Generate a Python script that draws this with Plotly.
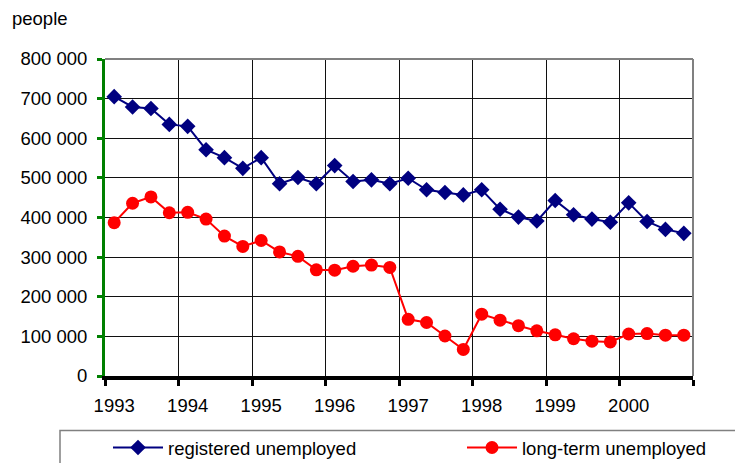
import plotly.graph_objects as go

years = [1993, 1994, 1995, 1996, 1997, 1998, 1999, 2000]
year_labels = ["1993", "1994", "1995", "1996", "1997", "1998", "1999", "2000"]
registered = [705000, 679000, 675000, 635000, 630000, 571000, 551000, 524000,
              551000, 485000, 501000, 485000, 531000, 491000, 495000, 485000,
              499000, 470000, 463000, 457000, 470000, 421000, 401000, 391000,
              443000, 407000, 396000, 388000, 437000, 390000, 370000, 360000]
long_term = [387000, 436000, 452000, 412000, 413000, 396000, 353000, 327000,
             342000, 313000, 302000, 268000, 267000, 277000, 280000, 274000,
             143000, 135000, 101000, 67000, 156000, 141000, 127000, 114000,
             104000, 94000, 88000, 86000, 106000, 107000, 103000, 103000]
y_ticks = [0, 100000, 200000, 300000, 400000, 500000, 600000, 700000, 800000]
y_labels = ["0", "100 000", "200 000", "300 000", "400 000", "500 000", "600 000", "700 000", "800 000"]

# quarter positions (centre of each quarter)
xq = [y + (q + 0.5) / 4 for y in years for q in range(4)]

OFF = 8  # default page body margin
W, H = 743 - OFF, 463 - OFF
L, R, T, B = 105 - OFF, 50, 59 - OFF, 87
PW, PH = W - L - R, H - T - B


def px(sx):
    return (sx - OFF - L) / PW


def py(sy):
    return 1 - (sy - OFF - T) / PH


FAM = "Liberation Sans, Arial, sans-serif"
FS = 18.5
font = dict(family=FAM, size=FS, color="black")

fig = go.Figure()
fig.add_trace(go.Scatter(x=xq, y=registered, mode="lines+markers", name="registered unemployed",
                         line=dict(color="#000080", width=2),
                         marker=dict(symbol="diamond", size=12, color="#000080"),
                         legend="legend"))
fig.add_trace(go.Scatter(x=xq, y=long_term, mode="lines+markers", name="long-term unemployed",
                         line=dict(color="#FF0000", width=2),
                         marker=dict(symbol="circle", size=13, color="#FF0000"),
                         legend="legend2"))
# invisible trace to carry the label axis
fig.add_trace(go.Scatter(x=[years[0] + 0.125], y=[0], xaxis="x2", mode="markers",
                         marker=dict(opacity=0), showlegend=False, hoverinfo="skip"))

leg_common = dict(orientation="h", xref="container", yref="container",
                  xanchor="left", yanchor="middle", bgcolor="rgba(0,0,0,0)",
                  borderwidth=0, font=dict(family=FAM, size=FS, color="black"),
                  itemwidth=50)

fig.update_layout(
    width=W, height=H,
    margin=dict(l=L, r=R, t=T, b=B, autoexpand=False),
    paper_bgcolor="white", plot_bgcolor="white",
    font=font,
    xaxis=dict(range=[1993, 2001], tickvals=years + [2001], showticklabels=False,
               showgrid=True, gridcolor="#101010", gridwidth=1,
               showline=True, linecolor="black", linewidth=4,
               ticks="outside", ticklen=6, tickwidth=3, tickcolor="black",
               zeroline=False, mirror=False, automargin=False),
    xaxis2=dict(range=[1993, 2001], overlaying="x", side="bottom",
                tickvals=[y + 0.125 for y in years], ticktext=year_labels,
                showgrid=False, showline=False, ticks="", zeroline=False,
                ticklabelstandoff=16, tickfont=font, automargin=False),
    yaxis=dict(range=[0, 800000], tickvals=y_ticks, ticktext=y_labels,
               showgrid=True, gridcolor="#101010", gridwidth=1,
               showline=True, linecolor="green", linewidth=3,
               ticks="outside", ticklen=5, tickwidth=3, tickcolor="green",
               zeroline=False, ticklabelstandoff=6, automargin=False),
    legend=dict(leg_common, x=100 / W, y=1 - (448 - OFF) / H),
    legend2=dict(leg_common, x=454 / W, y=1 - (448 - OFF) / H),
    showlegend=True,
    annotations=[dict(text="people", xref="paper", yref="paper", x=px(10), y=py(19),
                      xanchor="left", yanchor="middle", showarrow=False, font=font)],
    shapes=[dict(type="line", xref="paper", yref="paper", x0=0, x1=1, y0=1, y1=1,
                 line=dict(color="#808080", width=2)),
            dict(type="line", xref="paper", yref="paper", x0=1, x1=1, y0=0, y1=1,
                 line=dict(color="#808080", width=2)),
            dict(type="rect", xref="paper", yref="paper",
                 x0=px(60), x1=px(780), y0=py(430.5), y1=py(490),
                 line=dict(color="#808080", width=1.5))],
)
fig.write_html("out.html")
